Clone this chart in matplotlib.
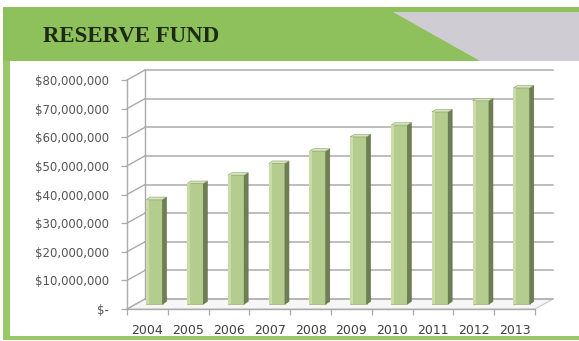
import matplotlib
matplotlib.use("Agg")
import matplotlib.pyplot as plt
from matplotlib.patches import Polygon, Rectangle
import numpy as np

# reserve fund balance by year (dollars)
years = ['2004', '2005', '2006', '2007', '2008', '2009', '2010', '2011', '2012', '2013']
reserve = [36.5e6, 42.1e6, 45.0e6, 49.1e6, 53.4e6, 58.4e6, 62.5e6, 67.1e6, 71.0e6, 75.5e6]
ytick_values = [0, 10e6, 20e6, 30e6, 40e6, 50e6, 60e6, 70e6, 80e6]
ytick_labels = ['$-', '$10,000,000', '$20,000,000', '$30,000,000', '$40,000,000',
                '$50,000,000', '$60,000,000', '$70,000,000', '$80,000,000']

W, H = 579, 341
GREEN = '#8ec15b'
GRID = '#ababab'

fig = plt.figure(figsize=(W / 100, H / 100), dpi=100)
fig.patch.set_facecolor('white')

# page layer: header band and frame, in pixel units (origin top-left)
bg = fig.add_axes([0, 0, 1, 1], zorder=0)
bg.set_xlim(0, W)
bg.set_ylim(H, 0)
bg.axis('off')
bg.add_patch(Rectangle((3, 7), W - 3, 54, color=GREEN, lw=0))
bg.add_patch(Polygon([(393, 12), (W, 12), (W, 61), (480, 61)], color='#cfccd4', lw=0))
bg.add_patch(Rectangle((3, 61), 7, 278, color='#98c86a', lw=0))
bg.add_patch(Rectangle((3, 336), W - 3, 4, color='#98c86a', lw=0))
bg.text(43, 37, 'RESERVE FUND', family='Liberation Serif', weight='bold',
        fontsize=16.5, color='#1d2a14', va='center', ha='left')

# chart: the front plane of the pseudo-3D box
ax = fig.add_axes([127 / W, (H - 309) / H, 408 / W, 229 / H], zorder=1)
ax.patch.set_alpha(0)
ax.set_xlim(-0.5, 9.5)
ax.set_ylim(0, 80e6)

# pixel -> data scale, used for the depth offsets
ppx = ax.bbox.width / 10.0
ppy = ax.bbox.height / 80e6
DX, DY = 18 / ppx, 10 / ppy        # back wall
BX, BY = 7 / ppx, 5 / ppy          # bar plane
SX, SY = 4 / ppx, 2.5 / ppy        # bar depth

# floor
ax.add_patch(Polygon([(-0.5, 0), (9.5, 0), (9.5 + DX, DY), (-0.5 + DX, DY)],
                     closed=True, facecolor='#f6f6f6', edgecolor='#c8c8c8', lw=0.8,
                     clip_on=False, zorder=1))

# back wall and left wall grid
for v in ytick_values:
    ax.plot([-0.5 + DX, 9.5 + DX], [v + DY, v + DY], color=GRID, lw=1.1,
            clip_on=False, zorder=1)
    ax.plot([-0.5, -0.5 + DX], [v, v + DY], color=GRID, lw=1.0,
            clip_on=False, zorder=1)
ax.plot([-0.5 + DX, -0.5 + DX], [DY, 80e6 + DY], color=GRID, lw=1.0,
        clip_on=False, zorder=1)

# bars: front face, right side and top cap
bw = 0.40
x = np.arange(len(years))
ax.bar(x + BX, reserve, bottom=BY, width=bw, color='#b5cc8f',
       edgecolor='#9bb373', lw=0.5, zorder=3, clip_on=False)
for xi, v in zip(x, reserve):
    xl, xr = xi + BX - bw / 2, xi + BX + bw / 2
    top = BY + v
    ax.add_patch(Rectangle((xl, BY), bw * 0.18, v, facecolor='#c9dca8', lw=0,
                           zorder=3.5, clip_on=False))
    ax.add_patch(Polygon([(xr, BY), (xr, top), (xr + SX, top + SY), (xr + SX, BY + SY)],
                         closed=True, facecolor='#6f7f55', edgecolor='#5f6e47', lw=0.4,
                         zorder=3, clip_on=False))
    ax.add_patch(Polygon([(xl, top), (xr, top), (xr + SX, top + SY), (xl + SX, top + SY)],
                         closed=True, facecolor='#d6e3bd', edgecolor='#8fa56a', lw=0.4,
                         zorder=3, clip_on=False))

# axes lines and labels
for side in ['top', 'right']:
    ax.spines[side].set_visible(False)
for side in ['left', 'bottom']:
    ax.spines[side].set_color(GRID)
    ax.spines[side].set_linewidth(1.0)

ax.set_yticks(ytick_values, ytick_labels)
ax.tick_params(axis='y', length=4, width=0.9, color=GRID, pad=9,
               labelsize=8.5, labelcolor='#555555')
ax.set_xticks(x, years)
ax.set_xticks(np.arange(-0.5, 10, 1), minor=True)
ax.tick_params(axis='x', which='major', length=0, pad=11, labelsize=9,
               labelcolor='#404040')
ax.tick_params(axis='x', which='minor', length=4, width=0.9, color=GRID)

fig.savefig('out.png', dpi=100, facecolor='white')
